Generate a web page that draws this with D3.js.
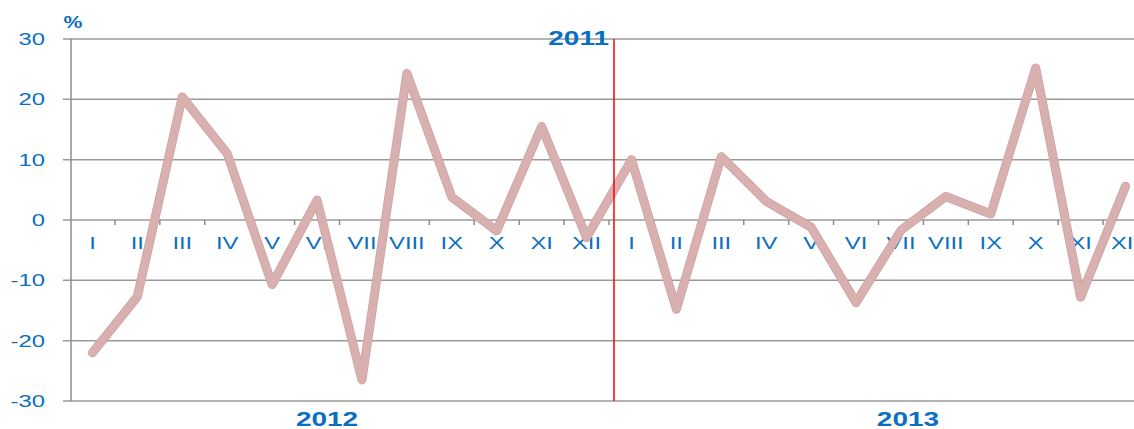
<!DOCTYPE html>
<html>
<head>
<meta charset="utf-8">
<script src="https://cdn.jsdelivr.net/npm/d3@7"></script>
<style>
  body { margin: 0; background: #fff; }
  svg { display: block; font-family: "Liberation Sans", Arial, sans-serif; }
</style>
</head>
<body>
<svg id="chart"></svg>
<script>
// data
var months = ["I", "II", "III", "IV", "V", "VI", "VII", "VIII", "IX", "X", "XI", "XII"]
var years = ["2012", "2013"]
var values2012 = [-22.0, -12.7, 20.4, 11.0, -10.7, 3.3, -26.5, 24.3, 3.8, -1.8, 15.5, -2.9]
var values2013 = [10.0, -14.8, 10.5, 3.1, -1.2, -13.7, -1.7, 3.9, 1.0, 25.2, -12.8, 5.6]
var yTicks = [-30, -20, -10, 0, 10, 20, 30]
var markerLabel = "2011"

var width = 1134, height = 429
var blue = "#0a6fc0"
var stretch = 1.4   // text in the original is drawn wide

var svg = d3.select("#chart")
    .attr("width", width)
    .attr("height", height)

// one key per month across both years
var points = []
years.forEach(function(y, yi) {
  var vals = yi == 0 ? values2012 : values2013
  months.forEach(function(m, i) {
    points.push({key: y + "-" + m, label: m, value: vals[i]})
  })
})

var x = d3.scaleBand()
    .domain(points.map(function(d) { return d.key }))
    .range([70, 1148])
    .padding(0)

var y = d3.scaleLinear()
    .domain([-30, 30])
    .range([401, 39])

// helper for the stretched text
function wideText(g, tx, ty, txt, anchor, size, weight, sx) {
  g.append("text")
    .attr("transform", "translate(" + tx + "," + ty + ") scale(" + (sx || stretch) + ",1)")
    .attr("text-anchor", anchor)
    .style("font-size", size + "px")
    .style("font-weight", weight || "normal")
    .attr("fill", blue)
    .text(txt)
}

// gridlines + y ticks
svg.append("g").selectAll("line")
    .data(yTicks)
  .enter().append("line")
    .attr("x1", 63)
    .attr("x2", width)
    .attr("y1", function(d) { return y(d) })
    .attr("y2", function(d) { return y(d) })
    .attr("stroke", "#9a9a9a")
    .attr("stroke-width", 1.5)

// left axis
svg.append("line")
    .attr("x1", 71).attr("x2", 71)
    .attr("y1", y(30)).attr("y2", y(-30))
    .attr("stroke", "#8c8c8c")
    .attr("stroke-width", 1.5)

var yLab = svg.append("g")
yTicks.forEach(function(t) {
  wideText(yLab, 45, y(t) + 6, String(t), "end", 17)
})
wideText(svg, 73, 28, "%", "middle", 17, "bold", 1.25)

// small category ticks on the zero line
svg.append("g").selectAll("line")
    .data(points.slice(1))
  .enter().append("line")
    .attr("x1", function(d) { return x(d.key) })
    .attr("x2", function(d) { return x(d.key) })
    .attr("y1", y(0))
    .attr("y2", y(0) + 5)
    .attr("stroke", "#8c8c8c")
    .attr("stroke-width", 1.5)

// month labels
var xLab = svg.append("g")
points.forEach(function(d) {
  wideText(xLab, x(d.key) + x.bandwidth() / 2, 249, d.label, "middle", 17)
})

// year labels
wideText(svg, x("2012-VI") + x.bandwidth() / 2 + 10, 426, years[0], "middle", 20, "bold")
wideText(svg, x("2013-VII") + x.bandwidth() / 2 + 7, 426, years[1], "middle", 20, "bold")

// the line, thin rim + lighter body
var line = d3.line()
    .x(function(d) { return x(d.key) + x.bandwidth() / 2 })
    .y(function(d) { return y(d.value) })

svg.append("path")
    .datum(points)
    .attr("d", line)
    .attr("fill", "none")
    .attr("stroke", "#cfa0a0")
    .attr("stroke-width", 9)
    .attr("stroke-linejoin", "round")
    .attr("stroke-linecap", "round")

svg.append("path")
    .datum(points)
    .attr("d", line)
    .attr("fill", "none")
    .attr("stroke", "#d9b0b0")
    .attr("stroke-width", 7.5)
    .attr("stroke-linejoin", "round")
    .attr("stroke-linecap", "round")

// red divider between the two years
var splitX = x("2013-I") + 5
svg.append("line")
    .attr("x1", splitX).attr("x2", splitX)
    .attr("y1", y(30)).attr("y2", y(-30))
    .attr("stroke", "#ff0000")
    .attr("stroke-width", 1.5)

wideText(svg, splitX - 5, 45, markerLabel, "end", 20, "bold")
</script>
</body>
</html>
